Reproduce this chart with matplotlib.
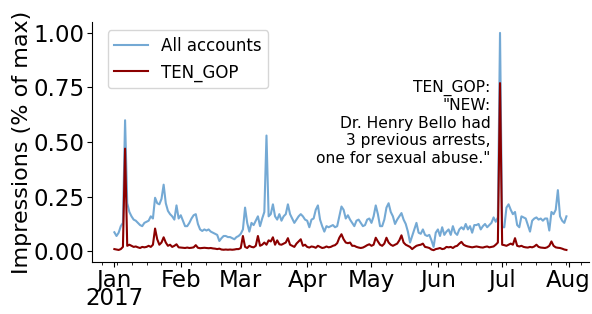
import matplotlib
matplotlib.use("Agg")
import matplotlib.pyplot as plt
import matplotlib.dates as mdates
import matplotlib.transforms as mtransforms
import pandas as pd

dates = pd.date_range("2017-01-01", "2017-07-31", freq="D")
year_label = "2017"

all_jan = [0.087, 0.07, 0.085, 0.115, 0.13, 0.6, 0.22, 0.18, 0.16, 0.145, 0.14, 0.13, 0.12, 0.115, 0.13, 0.135,
           0.14, 0.16, 0.15, 0.245, 0.22, 0.215, 0.24, 0.305, 0.22, 0.185, 0.17, 0.16, 0.145, 0.21, 0.15]
all_feb = [0.165, 0.14, 0.115, 0.115, 0.13, 0.15, 0.165, 0.17, 0.125, 0.1, 0.093, 0.1, 0.095, 0.1, 0.09, 0.085,
           0.08, 0.075, 0.047, 0.06, 0.07, 0.07, 0.065, 0.065, 0.06, 0.055, 0.065, 0.07]
all_mar = [0.08, 0.1, 0.2, 0.13, 0.09, 0.13, 0.12, 0.14, 0.16, 0.115, 0.15, 0.18, 0.53, 0.16, 0.17, 0.215,
           0.16, 0.145, 0.17, 0.14, 0.16, 0.17, 0.215, 0.17, 0.15, 0.13, 0.145, 0.16, 0.17, 0.16, 0.145]
all_apr = [0.14, 0.11, 0.145, 0.15, 0.19, 0.21, 0.145, 0.115, 0.09, 0.115, 0.11, 0.115, 0.12, 0.11, 0.115,
           0.16, 0.205, 0.19, 0.15, 0.165, 0.145, 0.13, 0.115, 0.14, 0.145, 0.13, 0.115, 0.12, 0.145, 0.15]
all_may = [0.13, 0.16, 0.21, 0.17, 0.115, 0.115, 0.145, 0.2, 0.22, 0.18, 0.16, 0.125, 0.145, 0.16, 0.175, 0.145,
           0.125, 0.09, 0.04, 0.07, 0.1, 0.13, 0.085, 0.08, 0.1, 0.075, 0.07, 0.075, 0.05, 0.02, 0.085]
all_jun = [0.1, 0.07, 0.11, 0.075, 0.09, 0.1, 0.075, 0.115, 0.085, 0.075, 0.1, 0.11, 0.1, 0.125, 0.1, 0.115,
           0.085, 0.12, 0.12, 0.125, 0.1, 0.115, 0.125, 0.11, 0.12, 0.13, 0.155, 0.135, 0.155, 1.0]
all_jul = [0.11, 0.11, 0.2, 0.215, 0.19, 0.17, 0.18, 0.12, 0.11, 0.16, 0.155, 0.15, 0.12, 0.09, 0.14, 0.15,
           0.155, 0.145, 0.15, 0.14, 0.15, 0.15, 0.095, 0.18, 0.17, 0.19, 0.28, 0.16, 0.14, 0.13, 0.16]

ten_jan = [0.01, 0.008, 0.006, 0.01, 0.02, 0.47, 0.025, 0.03, 0.025, 0.02, 0.022, 0.018, 0.015, 0.02, 0.018, 0.02,
           0.025, 0.02, 0.03, 0.104, 0.055, 0.03, 0.04, 0.064, 0.04, 0.025, 0.03, 0.02, 0.025, 0.032, 0.018]
ten_feb = [0.017, 0.016, 0.015, 0.017, 0.015, 0.016, 0.018, 0.028, 0.016, 0.014, 0.015, 0.016, 0.015, 0.014,
           0.015, 0.013, 0.012, 0.01, 0.012, 0.008, 0.007, 0.008, 0.007, 0.008, 0.007, 0.008, 0.01, 0.01]
ten_mar = [0.015, 0.07, 0.02, 0.015, 0.025, 0.02, 0.018, 0.025, 0.07, 0.025, 0.03, 0.04, 0.03, 0.05, 0.045,
           0.064, 0.03, 0.05, 0.032, 0.03, 0.035, 0.04, 0.06, 0.03, 0.025, 0.02, 0.035, 0.045, 0.055, 0.025, 0.03]
ten_apr = [0.02, 0.017, 0.022, 0.02, 0.016, 0.025, 0.02, 0.015, 0.017, 0.022, 0.018, 0.02, 0.025, 0.028, 0.037,
           0.062, 0.078, 0.055, 0.04, 0.037, 0.04, 0.025, 0.025, 0.02, 0.017, 0.015, 0.017, 0.022, 0.028, 0.032]
ten_may = [0.025, 0.03, 0.062, 0.045, 0.03, 0.025, 0.035, 0.062, 0.04, 0.03, 0.025, 0.03, 0.035, 0.05, 0.073,
           0.04, 0.03, 0.025, 0.02, 0.01, 0.018, 0.025, 0.028, 0.03, 0.035, 0.02, 0.018, 0.015, 0.008, 0.005, 0.01]
ten_jun = [0.012, 0.015, 0.01, 0.012, 0.02, 0.018, 0.02, 0.015, 0.022, 0.025, 0.035, 0.043, 0.03, 0.025, 0.022,
           0.02, 0.018, 0.02, 0.022, 0.02, 0.018, 0.017, 0.02, 0.022, 0.018, 0.02, 0.022, 0.03, 0.04, 0.77]
ten_jul = [0.03, 0.028, 0.025, 0.03, 0.035, 0.03, 0.06, 0.025, 0.022, 0.025, 0.02, 0.018, 0.017, 0.02, 0.018,
           0.022, 0.03, 0.02, 0.017, 0.016, 0.015, 0.018, 0.025, 0.045, 0.025, 0.018, 0.016, 0.015, 0.012, 0.008, 0.006]

all_accounts = all_jan + all_feb + all_mar + all_apr + all_may + all_jun + all_jul
ten_gop = ten_jan + ten_feb + ten_mar + ten_apr + ten_may + ten_jun + ten_jul

series_labels = ["All accounts", "TEN_GOP"]
annotation = 'TEN_GOP:\n"NEW:\nDr. Henry Bello had\n3 previous arrests,\none for sexual abuse."'
annot_date = pd.Timestamp("2017-06-25 12:00")
annot_y = 0.785

fig = plt.figure(figsize=(5.92, 3.14), dpi=100)
ax = fig.add_axes([0.155, 0.165, 0.84, 0.765])

ax.plot(dates, all_accounts, color="#74a9d4", lw=1.5, label=series_labels[0])
ax.plot(dates, ten_gop, color="#8b0000", lw=1.5, label=series_labels[1])

ax.set_ylim(-0.05, 1.05)
ax.set_yticks([0.0, 0.25, 0.5, 0.75, 1.0])
ax.set_yticklabels(["0.00", "0.25", "0.50", "0.75", "1.00"])
ax.set_ylabel("Impressions (% of max)", fontsize=16, labelpad=1)

ax.xaxis.set_major_locator(mdates.MonthLocator())
ax.xaxis.set_minor_locator(mdates.WeekdayLocator(byweekday=mdates.MO))
ax.xaxis.set_major_formatter(mdates.DateFormatter("%b"))
ax.tick_params(axis="both", which="major", labelsize=16.5, length=3.5, pad=1.5)
ax.tick_params(axis="x", which="minor", length=2)

# year label under the first month tick
trans = mtransforms.blended_transform_factory(ax.transData, fig.transFigure)
ax.text(dates[0], 0.012, year_label, transform=trans, ha="center", va="bottom",
        fontsize=16.5, clip_on=False)

for s in ["top", "right"]:
    ax.spines[s].set_visible(False)

ax.text(annot_date, annot_y, annotation, ha="right", va="top", fontsize=11.2, linespacing=1.2)
ax.legend(loc="upper left", fontsize=12, bbox_to_anchor=(0.015, 1.0))

fig.savefig("out.png", dpi=100)
